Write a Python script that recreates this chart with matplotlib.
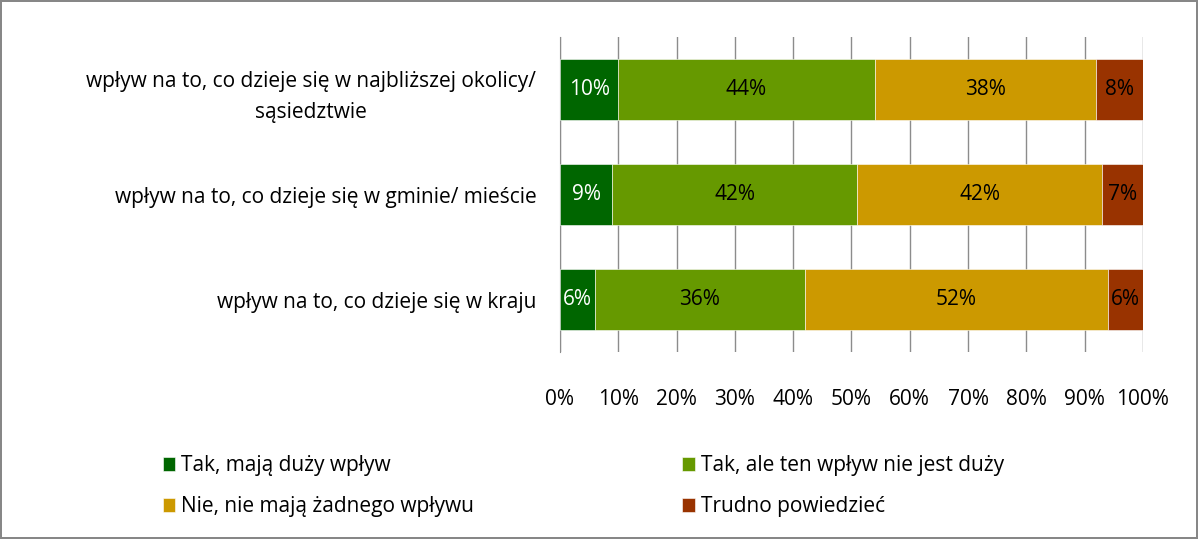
import numpy as np
import matplotlib.pyplot as plt

plt.rcParams['font.family'] = ['Open Sans', 'DejaVu Sans']

categories = [
    'wpływ na to, co dzieje się w najbliższej okolicy/\nsąsiedztwie',
    'wpływ na to, co dzieje się w gminie/ mieście',
    'wpływ na to, co dzieje się w kraju',
]
series_names = [
    'Tak, mają duży wpływ',
    'Tak, ale ten wpływ nie jest duży',
    'Nie, nie mają żadnego wpływu',
    'Trudno powiedzieć',
]
values = [
    [10, 9, 6],
    [44, 42, 36],
    [38, 42, 52],
    [8, 7, 6],
]
colors = ['#006600', '#669900', '#CC9900', '#993300']
label_colors = ['white', 'black', 'black', 'black']

fig = plt.figure(figsize=(11.98, 5.39), dpi=100)
fig.patch.set_edgecolor('#878787')
fig.patch.set_linewidth(1.5)
ax = fig.add_axes([0.4674, 0.347, 0.4866, 0.584])

y = np.arange(len(categories))
left = np.zeros(len(categories))
handles = []
for i, (name, vals) in enumerate(zip(series_names, values)):
    vals = np.array(vals, dtype=float)
    bars = ax.barh(y, vals, left=left, height=0.58, color=colors[i],
                   edgecolor='white', linewidth=0.4, label=name, zorder=3)
    handles.append(bars)
    for yy, l, v in zip(y, left, vals):
        ax.text(l + v / 2, yy, f'{v:.0f}%', ha='center', va='center',
                fontsize=15, color=label_colors[i], zorder=4)
    left += vals

ax.set_xlim(0, 100)
ax.set_ylim(2.5, -0.5)
ax.set_xticks(np.arange(0, 101, 10))
ax.set_xticklabels([f'{t}%' for t in range(0, 101, 10)], fontsize=15)
ax.set_yticks(y)
ax.set_yticklabels(categories, fontsize=15, ha='right', multialignment='center',
                   linespacing=1.6)
ax.tick_params(axis='y', length=0, pad=17)
ax.tick_params(axis='x', length=0, pad=27)
ax.xaxis.grid(True, color='#8c8c8c', linewidth=1, zorder=0)
for s in ['top', 'right', 'bottom']:
    ax.spines[s].set_visible(False)
ax.spines['left'].set_color('#8c8c8c')

# legend fills column-wise, so reorder to read row by row
order = [0, 2, 1, 3]
leg = fig.legend([handles[k] for k in order], [series_names[k] for k in order],
                 ncol=2, loc='upper left', bbox_to_anchor=(0.12, 0.19),
                 frameon=False, fontsize=15, handlelength=0.6, handleheight=0.65,
                 handletextpad=0.3, columnspacing=10.0, labelspacing=0.95)

fig.savefig('out.png', dpi=100)
